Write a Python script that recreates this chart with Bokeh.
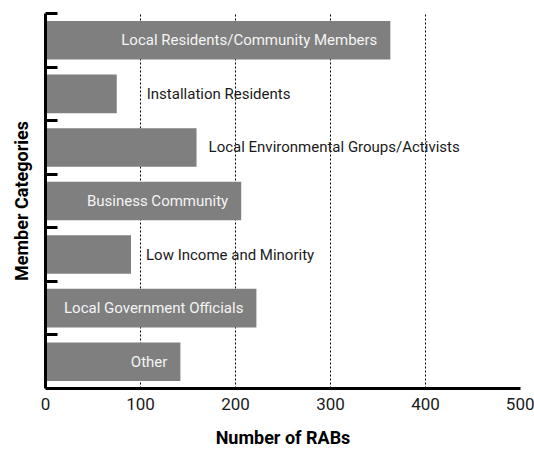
from bokeh.plotting import figure
from bokeh.models import ColumnDataSource, Range1d, FixedTicker
from bokeh.core.properties import value
from bokeh.embed import file_html
from bokeh.resources import INLINE

categories = ["Local Residents/Community Members", "Installation Residents",
              "Local Environmental Groups/Activists", "Business Community",
              "Low Income and Minority", "Local Government Officials", "Other"]
counts = [363, 75, 159, 206, 90, 222, 142]
x_ticks = [0, 100, 200, 300, 400, 500]

# label styling: inside (right aligned, light) or outside (left aligned, dark)
label_inside = [True, False, False, True, False, True, True]
label_offset = [-13, 30, 12, -13, 15, -13, -13]

FONT = "Roboto"

n = len(categories)
ypos = [n - i - 0.5 for i in range(n)]

src = ColumnDataSource(dict(
    y=ypos, x=counts, cat=categories,
    off=label_offset,
    align=["right" if f else "left" for f in label_inside],
    color=["#f4f4f4" if f else "#1a1a1a" for f in label_inside],
))

p = figure(width=534, height=450, output_backend="svg", toolbar_location=None,
           x_range=Range1d(0, 500), y_range=Range1d(0, n),
           min_border_left=45, min_border_right=14, min_border_top=13, min_border_bottom=59)
p.outline_line_color = None
p.background_fill_color = "white"

p.hbar(y="y", right="x", left=0, height=0.72, source=src,
       fill_color="#7f7f7f", line_color=None)

p.text(x="x", y="y", text="cat", x_offset="off", text_align="align",
       text_baseline="middle", text_color="color", source=src,
       text_font=value(FONT), text_font_size="15px")

# x axis
p.xaxis.ticker = FixedTicker(ticks=x_ticks)
p.xaxis.axis_line_width = 3
p.xaxis.axis_line_color = "black"
p.xaxis.major_tick_in = 0
p.xaxis.major_tick_out = 0
p.xaxis.minor_tick_line_color = None
p.xaxis.major_label_text_font = FONT
p.xaxis.major_label_text_font_size = "17px"
p.xaxis.major_label_text_color = "#1a1a1a"
p.xaxis.major_label_standoff = 9
p.xaxis.axis_label = "Number of RABs"
p.xaxis.axis_label_text_font = FONT
p.xaxis.axis_label_text_font_style = "bold"
p.xaxis.axis_label_text_font_size = "18px"
p.xaxis.axis_label_text_color = "black"
p.xaxis.axis_label_standoff = 14

# y axis
p.yaxis.ticker = FixedTicker(ticks=list(range(1, n + 1)))
p.yaxis.axis_line_width = 3
p.yaxis.axis_line_color = "black"
p.yaxis.major_tick_in = 12
p.yaxis.major_tick_out = 0
p.yaxis.major_tick_line_width = 3
p.yaxis.major_tick_line_color = "black"
p.yaxis.minor_tick_line_color = None
p.yaxis.major_label_text_font_size = "1px"
p.yaxis.major_label_text_color = None
p.yaxis.major_label_standoff = 0
p.yaxis.axis_label = "Member Categories"
p.yaxis.axis_label_text_font = FONT
p.yaxis.axis_label_text_font_style = "bold"
p.yaxis.axis_label_text_font_size = "18px"
p.yaxis.axis_label_text_color = "black"
p.yaxis.axis_label_standoff = 14

p.xgrid.grid_line_color = "black"
p.xgrid.grid_line_dash = "2 2"
p.xgrid.grid_line_width = 1
p.ygrid.grid_line_color = None

open("out.html", "w").write(file_html(p, INLINE))
